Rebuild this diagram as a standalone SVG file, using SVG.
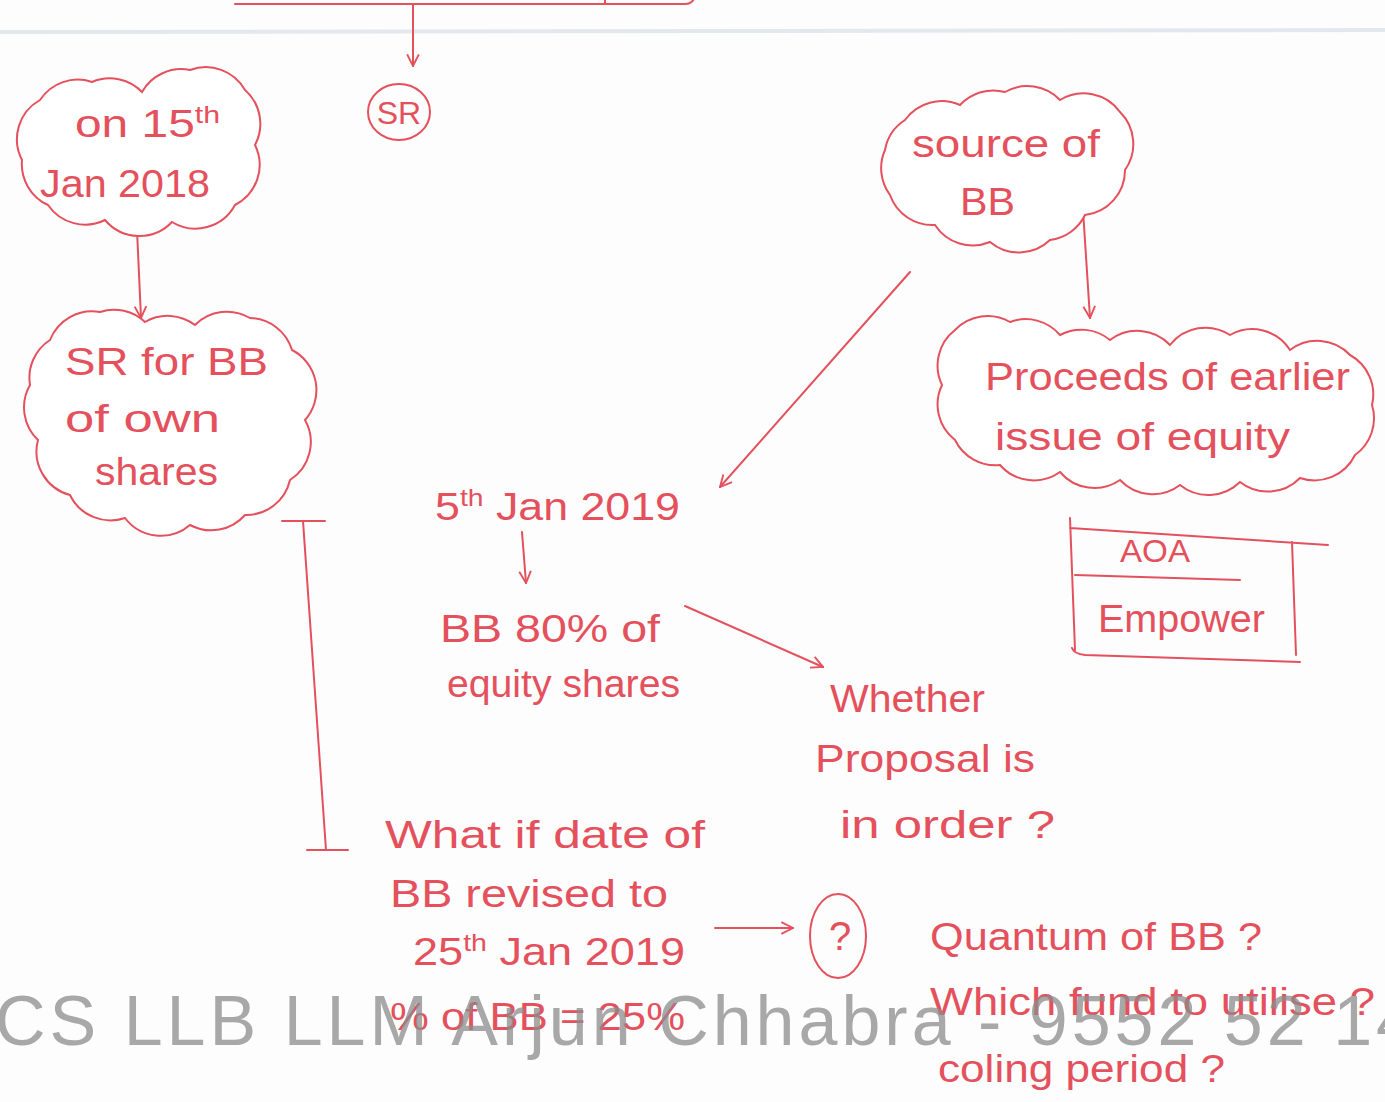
<svg xmlns="http://www.w3.org/2000/svg" width="1385" height="1102" viewBox="0 0 1385 1102">
<defs>
<marker id="ah" viewBox="0 0 12 12" refX="11" refY="6" markerWidth="14" markerHeight="14" markerUnits="userSpaceOnUse" orient="auto">
<path d="M1,1 L11,6 L1,11" fill="none" stroke="#e4505c" stroke-width="1.6"/>
</marker>
<style>
.ink{fill:none;stroke:#e4505c;stroke-width:2;stroke-linecap:round;stroke-linejoin:round}
.cloud{fill:#ffffff;stroke:#e4505c;stroke-width:2}
.t{font-family:"Liberation Sans","DejaVu Sans",sans-serif;fill:#e4505c;font-size:38px}
.sup{font-size:24px}
.wm{font-family:"Liberation Sans",Arial,sans-serif;fill:#8c8c8c;font-size:70px;opacity:0.75}
.bg{stroke:#e3e8ee;stroke-width:4;fill:none}
</style>
</defs>
<rect width="1385" height="1102" fill="#fdfdfd"/>
<line class="bg" x1="0" y1="32" x2="1385" y2="30"/>

<g id="connectors">
<path class="ink" d="M235,4 H685 q8,0 10,-8"/>
<path class="ink" d="M605,0 V4"/>
<path class="ink" d="M413,5 L413,66" marker-end="url(#ah)"/>
<path class="ink" d="M137,230 L141,318" marker-end="url(#ah)"/>
<path class="ink" d="M1083,210 L1090,318" marker-end="url(#ah)"/>
<path class="ink" d="M910,272 L720,487" marker-end="url(#ah)"/>
<path class="ink" d="M522,532 L526,583" marker-end="url(#ah)"/>
<path class="ink" d="M685,606 L823,667" marker-end="url(#ah)"/>
<path class="ink" d="M715,928 L793,928" marker-end="url(#ah)"/>
<path class="ink" d="M282,521 H325 M303,521 L326,850 M307,850 H348"/>
</g>

<g id="node-jan2018">
<path class="cloud" d="M40,100 A45,45 0 0 1 92,82 A45,45 0 0 1 142,92 A45,45 0 0 1 190,70 A45,45 0 0 1 245,90 A45,45 0 0 1 255,145 A45,45 0 0 1 235,205 A45,45 0 0 1 172,222 A45,45 0 0 1 105,220 A45,45 0 0 1 48,205 A45,45 0 0 1 22,160 A45,45 0 0 1 40,100 Z"/>
<text class="t" x="75" y="137" textLength="145" lengthAdjust="spacingAndGlyphs">on 15<tspan class="sup" dy="-14">th</tspan></text>
<text class="t" x="40" y="197" textLength="170" lengthAdjust="spacingAndGlyphs">Jan 2018</text>
</g>

<g id="node-sr-bb">
<path class="cloud" d="M50,340 A45,45 0 0 1 100,312 A45,45 0 0 1 145,322 A45,45 0 0 1 195,325 A45,45 0 0 1 250,318 A45,45 0 0 1 292,350 A45,45 0 0 1 305,420 A45,45 0 0 1 290,480 A45,45 0 0 1 245,515 A45,45 0 0 1 190,525 A45,45 0 0 1 125,518 A45,45 0 0 1 70,495 A45,45 0 0 1 38,440 A45,45 0 0 1 30,385 A45,45 0 0 1 50,340 Z"/>
<text class="t" x="65" y="375" textLength="203" lengthAdjust="spacingAndGlyphs">SR for BB</text>
<text class="t" x="65" y="432" textLength="155" lengthAdjust="spacingAndGlyphs">of own</text>
<text class="t" x="95" y="485" textLength="123" lengthAdjust="spacingAndGlyphs">shares</text>
</g>

<g id="node-sr">
<ellipse class="ink" cx="399" cy="112" rx="31" ry="28"/>
<text class="t" x="399" y="124" text-anchor="middle" style="font-size:32px">SR</text>
</g>

<g id="node-source">
<path class="cloud" d="M905,120 A45,45 0 0 1 960,105 A45,45 0 0 1 1005,92 A45,45 0 0 1 1060,100 A45,45 0 0 1 1120,112 A45,45 0 0 1 1125,170 A45,45 0 0 1 1085,215 A45,45 0 0 1 1050,240 A45,45 0 0 1 990,242 A45,45 0 0 1 935,225 A45,45 0 0 1 890,195 A45,45 0 0 1 885,150 A45,45 0 0 1 905,120 Z"/>
<text class="t" x="912" y="157" textLength="188" lengthAdjust="spacingAndGlyphs">source of</text>
<text class="t" x="960" y="215" textLength="55" lengthAdjust="spacingAndGlyphs">BB</text>
</g>

<g id="node-proceeds">
<path class="cloud" d="M955,330 A45,45 0 0 1 1010,322 A45,45 0 0 1 1060,335 A45,45 0 0 1 1110,340 A45,45 0 0 1 1170,345 A45,45 0 0 1 1230,335 A45,45 0 0 1 1290,350 A45,45 0 0 1 1350,355 A45,45 0 0 1 1372,405 A45,45 0 0 1 1355,455 A45,45 0 0 1 1300,478 A45,45 0 0 1 1240,482 A45,45 0 0 1 1180,485 A45,45 0 0 1 1120,480 A45,45 0 0 1 1060,472 A45,45 0 0 1 1000,465 A45,45 0 0 1 955,440 A45,45 0 0 1 942,385 A45,45 0 0 1 955,330 Z"/>
<text class="t" x="985" y="390" textLength="365" lengthAdjust="spacingAndGlyphs">Proceeds of earlier</text>
<text class="t" x="995" y="450" textLength="295" lengthAdjust="spacingAndGlyphs">issue of equity</text>
</g>

<g id="node-aoa">
<path class="ink" d="M1070,518 L1075,650 M1070,528 L1328,545 M1075,575 L1240,580 M1292,542 L1296,655 M1072,648 Q1074,654 1085,655 L1300,662"/>
<text class="t" x="1120" y="562" textLength="70" lengthAdjust="spacingAndGlyphs" style="font-size:32px">AOA</text>
<text class="t" x="1098" y="632" textLength="167" lengthAdjust="spacingAndGlyphs">Empower</text>
</g>

<g id="node-jan2019">
<text class="t" x="435" y="520" textLength="245" lengthAdjust="spacingAndGlyphs">5<tspan class="sup" dy="-14">th</tspan><tspan dy="14"> Jan 2019</tspan></text>
</g>

<g id="node-bb80">
<text class="t" x="440" y="642" textLength="220" lengthAdjust="spacingAndGlyphs">BB 80% of</text>
<text class="t" x="447" y="697" textLength="233" lengthAdjust="spacingAndGlyphs">equity shares</text>
</g>

<g id="node-whether">
<text class="t" x="830" y="712" textLength="155" lengthAdjust="spacingAndGlyphs">Whether</text>
<text class="t" x="815" y="772" textLength="220" lengthAdjust="spacingAndGlyphs">Proposal is</text>
<text class="t" x="840" y="838" textLength="215" lengthAdjust="spacingAndGlyphs">in order ?</text>
</g>

<g id="node-whatif">
<text class="t" x="385" y="848" textLength="320" lengthAdjust="spacingAndGlyphs">What if date of</text>
<text class="t" x="390" y="907" textLength="278" lengthAdjust="spacingAndGlyphs">BB revised to</text>
<text class="t" x="413" y="965" textLength="272" lengthAdjust="spacingAndGlyphs">25<tspan class="sup" dy="-14">th</tspan><tspan dy="14"> Jan 2019</tspan></text>
<text class="t" x="390" y="1030" textLength="295" lengthAdjust="spacingAndGlyphs">% of BB = 25%</text>
</g>

<g id="node-question">
<ellipse class="ink" cx="838" cy="936" rx="28" ry="42"/>
<text class="t" x="840" y="950" text-anchor="middle" style="font-size:40px">?</text>
</g>

<g id="node-quantum">
<text class="t" x="930" y="950" textLength="332" lengthAdjust="spacingAndGlyphs">Quantum of BB ?</text>
<text class="t" x="930" y="1015" textLength="445" lengthAdjust="spacingAndGlyphs">Which fund to utilise ?</text>
<text class="t" x="938" y="1082" textLength="287" lengthAdjust="spacingAndGlyphs">coling period ?</text>
</g>

<text class="wm" x="-5" y="1045" textLength="1420" lengthAdjust="spacing">CS LLB LLM Arjun Chhabra - 9552 52 14</text>
</svg>
